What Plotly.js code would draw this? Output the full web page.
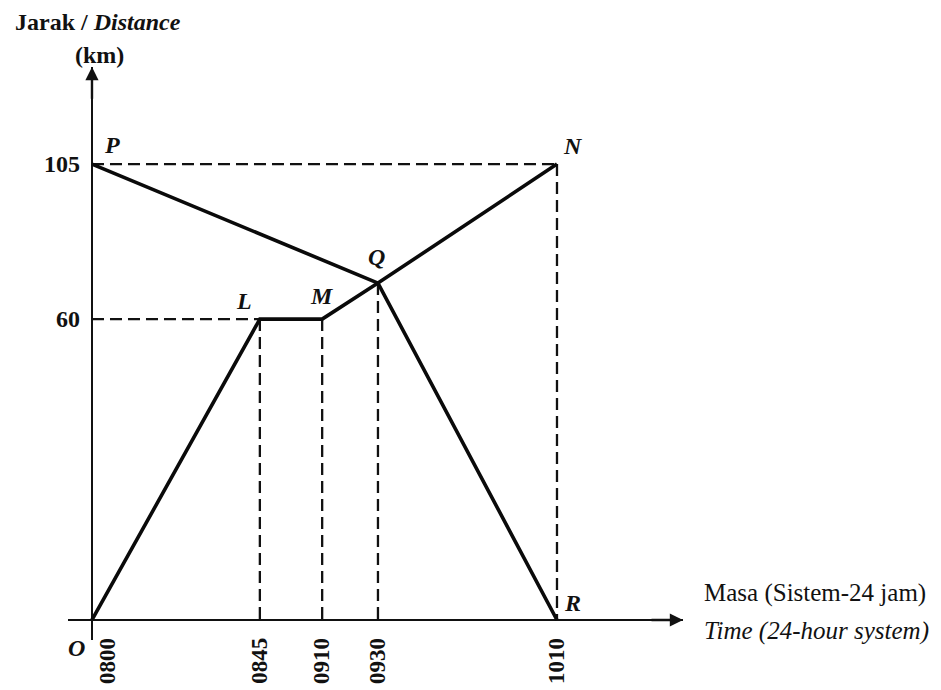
<!DOCTYPE html>
<html>
<head>
<meta charset="utf-8">
<script src="https://cdn.plot.ly/plotly-3.0.1.min.js"></script>
<style>html,body{margin:0;padding:0;background:#fff;}#chart{width:941px;height:690px;}</style>
</head>
<body>
<div id="chart"></div>
<script>
// ---- Data (diagram is not drawn to scale: positions along each axis are the drawn scale, 1010 = 100, 105 km = 100) ----
const timeLabels = ['0800', '0845', '0910', '0930', '1010'];
const timeScale  = [0, 36.1, 49.5, 61.5, 100];
const distLabels = ['60', '105'];
const distScale  = [66.0, 100];

const pointNames = ['O', 'L', 'M', 'Q', 'N', 'P', 'R'];
const pointTimes = ['0800', '0845', '0910', '0930', '1010', '0800', '1010'];
const pointDist  = [0, 66.0, 66.0, 73.9, 100, 100, 0];

const journey1 = ['O', 'L', 'M', 'Q', 'N'];
const journey2 = ['P', 'Q', 'R'];
const guideToYAxis = ['N', 'L'];
const guideToXAxis = ['L', 'M', 'Q', 'N'];

// ---- helpers ----
const ptX = n => timeScale[timeLabels.indexOf(pointTimes[pointNames.indexOf(n)])];
const ptY = n => pointDist[pointNames.indexOf(n)];

const FONT = 'Liberation Serif, Times New Roman, serif';
const traces = [];
const dashLine = {color: '#111', width: 2.3, dash: '12px,6px'};
guideToYAxis.forEach(n => traces.push({x: [0, ptX(n)], y: [ptY(n), ptY(n)], mode: 'lines', line: dashLine, hoverinfo: 'skip'}));
guideToXAxis.forEach(n => traces.push({x: [ptX(n), ptX(n)], y: [ptY(n), 0], mode: 'lines', line: dashLine, hoverinfo: 'skip'}));
[journey1, journey2].forEach(j => traces.push({
  x: j.map(ptX), y: j.map(ptY), mode: 'lines',
  line: {color: '#0a0a0a', width: 3.6}, hoverinfo: 'skip'
}));

const annotations = [];
// point labels
const labelShift = {O: [-15, -28], L: [-16, 18], M: [0, 23], Q: [-1, 26], N: [16, 18], P: [20, 19], R: [16, 17]};
pointNames.forEach(n => annotations.push({
  x: ptX(n), y: ptY(n), xref: 'x', yref: 'y', text: '<b><i>' + n + '</i></b>', showarrow: false,
  xshift: labelShift[n][0], yshift: labelShift[n][1], font: {family: FONT, size: 24, color: '#111'}
}));
// x tick labels (rotated)
timeLabels.forEach((t, i) => annotations.push({
  x: timeScale[i], y: -3.5, xref: 'x', yref: 'y', text: '<b>' + t + '</b>', showarrow: false, textangle: -90,
  xanchor: 'center', yanchor: 'top', xshift: i === 0 ? 16 : 0,
  font: {family: FONT, size: 23, color: '#111'}
}));
// y tick labels
distLabels.forEach((d, i) => annotations.push({
  x: -2.2, y: distScale[i], xref: 'x', yref: 'y', text: '<b>' + d + '</b>', showarrow: false,
  xanchor: 'right', yanchor: 'middle', font: {family: FONT, size: 24, color: '#111'}
}));
// axis arrows
annotations.push({x: 127.1, y: 0, ax: 120, ay: 0, xref: 'x', yref: 'y', axref: 'x', ayref: 'y', text: '',
  showarrow: true, arrowhead: 2, arrowsize: 1.1, arrowwidth: 2.4, arrowcolor: '#111'});
annotations.push({x: 0, y: 121.3, ax: 0, ay: 114, xref: 'x', yref: 'y', axref: 'x', ayref: 'y', text: '',
  showarrow: true, arrowhead: 2, arrowsize: 1.1, arrowwidth: 2.4, arrowcolor: '#111'});
// axis titles
annotations.push({x: -0.0894, y: 1.0785, xref: 'paper', yref: 'paper', xanchor: 'left', yanchor: 'middle', showarrow: false,
  text: '<b>Jarak / <i>Distance</i></b>', font: {family: FONT, size: 24, color: '#111'}});
annotations.push({x: 0.052, y: 1.021, xref: 'paper', yref: 'paper', xanchor: 'center', yanchor: 'middle', showarrow: false,
  text: '<b>(km)</b>', font: {family: FONT, size: 24, color: '#111'}});
annotations.push({x: 1.0309, y: 0.082, xref: 'paper', yref: 'paper', xanchor: 'left', yanchor: 'middle', showarrow: false,
  text: 'Masa (Sistem-24 jam)', font: {family: FONT, size: 25, color: '#111'}});
annotations.push({x: 1.0309, y: 0.0157, xref: 'paper', yref: 'paper', xanchor: 'left', yanchor: 'middle', showarrow: false,
  text: '<i>Time (24-hour system)</i>', font: {family: FONT, size: 25, color: '#111'}});

const axisCommon = {showgrid: false, showticklabels: false, ticks: '', showline: false,
  zeroline: true, zerolinecolor: '#111', zerolinewidth: 2.4, fixedrange: true};
const layout = {
  width: 941, height: 690,
  margin: {l: 68, r: 258, t: 67, b: 50},
  paper_bgcolor: '#fff', plot_bgcolor: '#fff',
  showlegend: false,
  xaxis: Object.assign({range: [-5.16, 127.1]}, axisCommon),
  yaxis: Object.assign({range: [-4.39, 121.3]}, axisCommon),
  annotations: annotations
};
Plotly.newPlot('chart', traces, layout, {displayModeBar: false, staticPlot: true});
</script>
</body>
</html>
